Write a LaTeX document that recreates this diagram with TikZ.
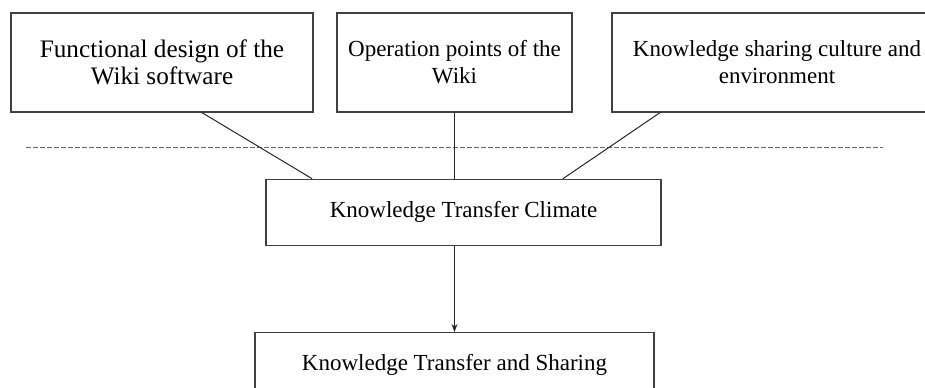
\documentclass[tikz,border=0pt]{standalone}
\usepackage{fontspec}
\setmainfont{Liberation Serif}
\usetikzlibrary{positioning,arrows.meta}

\begin{document}
\begin{tikzpicture}[x=0.5pt,y=-0.5pt,
  box/.style={draw=black!75,line width=0.65pt,align=center,inner sep=0pt,
    font=\fontsize{11.5}{13.5}\selectfont},
  link/.style={draw=black!85,line width=0.5pt},
  divider/.style={draw=black!60,line width=0.5pt,dash pattern=on 2.3pt off 1.2pt}]
\clip (0,0) rectangle (925,387);
% top row
\node[box,minimum width=151pt,minimum height=49.5pt,
  font=\fontsize{12.6}{13.5}\selectfont] (design) at (162,62.5) {
Functional design of the\\Wiki software};
\node[box,minimum width=117.5pt,minimum height=49.5pt] (points) at (454.5,62.5) {
Operation points of the\\Wiki};
\node[box,minimum width=165pt,minimum height=49.5pt] (culture) at (777,62.5) {
Knowledge sharing culture and\\environment};
% dashed divider
\coordinate (dividerL) at (26,147);
\coordinate (dividerR) at (883,147);
\draw[divider] (dividerL) -- (dividerR);
% lower boxes
\node[box,below=33pt of points,xshift=4.5pt,minimum width=197.5pt,minimum height=33pt] (climate) {
Knowledge Transfer Climate};
\node[box,below=43pt of climate,xshift=-4.5pt,minimum width=199.5pt,minimum height=32pt] (sharing) {
Knowledge Transfer and Sharing};
\draw[link] ([xshift=20pt]design.south) -- ([xshift=-75.75pt]climate.north);
\draw[link] (points.south) -- (points.south |- climate.north);
\draw[link] ([xshift=-58.5pt]culture.south) -- ([xshift=49.75pt]climate.north);
\draw[link,-{Stealth[length=4pt,width=3pt]}] (climate.south -| sharing.north) -- (sharing.north);
\end{tikzpicture}
\end{document}
